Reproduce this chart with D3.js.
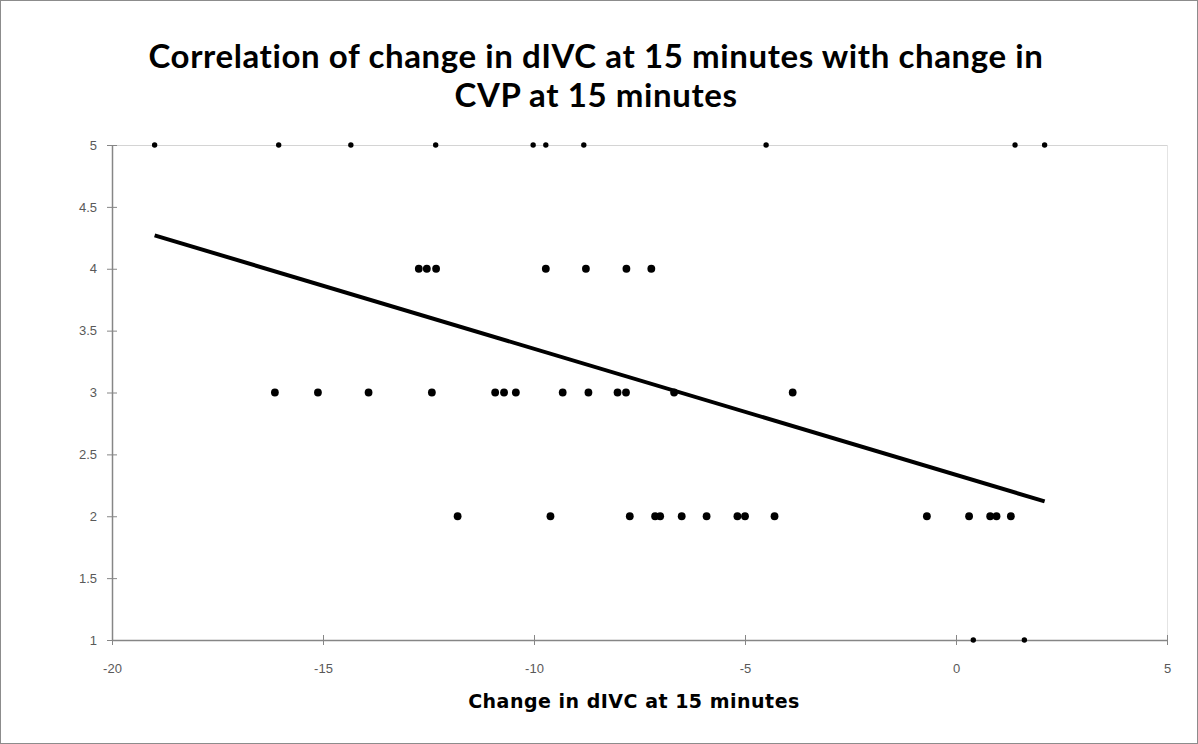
<!DOCTYPE html>
<html>
<head>
<meta charset="utf-8">
<script src="https://cdn.jsdelivr.net/npm/d3@7"></script>
<style>
  body { margin: 0; background: #fff; }
  svg { display: block; }
</style>
</head>
<body>
<svg id="chart" width="1198" height="744"></svg>
<script>
// values, grouped by CVP level
var dIVC = [
  -18.99, -16.05, -14.34, -12.33, -10.02, -9.72, -8.82, -4.5, 1.4, 2.1,
  -12.73, -12.54, -12.32, -9.72, -8.77, -7.81, -7.22,
  -16.14, -15.12, -13.92, -12.42, -10.92, -10.71, -10.43, -9.32, -8.71, -8.02, -7.82, -6.68, -3.87,
  -11.81, -9.61, -7.73, -7.13, -7.01, -6.5, -5.91, -5.18, -5.0, -4.3, -0.69, 0.31, 0.81, 0.96, 1.3,
  0.41, 1.62
];
var cvp = [
  5, 5, 5, 5, 5, 5, 5, 5, 5, 5,
  4, 4, 4, 4, 4, 4, 4,
  3, 3, 3, 3, 3, 3, 3, 3, 3, 3, 3, 3, 3,
  2, 2, 2, 2, 2, 2, 2, 2, 2, 2, 2, 2, 2, 2, 2,
  1, 1
];
// trend line ends as drawn in the picture (some points overlap and can't be read)
var trendX = [-18.99, 2.1];
var trendY = [4.27, 2.12];
var xTicks = [-20, -15, -10, -5, 0, 5];
var yTicks = [1, 1.5, 2, 2.5, 3, 3.5, 4, 4.5, 5];
var titleLines = ["Correlation of change in dIVC at 15 minutes with change in", "CVP at 15 minutes"];
var xTitle = "Change in dIVC at 15 minutes";

var svg = d3.select("#chart"),
    margin = {top: 145, right: 31, bottom: 104, left: 112},
    width = +svg.attr("width") - margin.left - margin.right,
    height = +svg.attr("height") - margin.top - margin.bottom;

var data = dIVC.map(function(d, i) { return {x: d, y: cvp[i]}; });

// outer frame
svg.append("rect")
    .attr("x", 0.5).attr("y", 0.5)
    .attr("width", 1197).attr("height", 743)
    .attr("fill", "#fff")
    .attr("stroke", "#8c8c8c");

var x = d3.scaleLinear().domain([-20, 5]).range([0, width]);
var y = d3.scaleLinear().domain([1, 5]).range([height, 0]);

var g = svg.append("g").attr("transform", "translate(" + margin.left + "," + margin.top + ")");

// light plot border top / right
g.append("line")
    .attr("x1", 0).attr("x2", width).attr("y1", y(5) + 0.5).attr("y2", y(5) + 0.5)
    .attr("stroke", "#d4d4d4");
g.append("line")
    .attr("x1", width + 0.5).attr("x2", width + 0.5).attr("y1", 0).attr("y2", height)
    .attr("stroke", "#e4e4e4");

var fmt = function(d) { return String(d); };

var xAxis = g.append("g")
    .attr("transform", "translate(0," + height + ")")
    .call(d3.axisBottom(x).tickValues(xTicks).tickSizeInner(5).tickSizeOuter(0).tickPadding(19).tickFormat(fmt));
var yAxis = g.append("g")
    .call(d3.axisLeft(y).tickValues(yTicks).tickSizeInner(5).tickSizeOuter(0).tickPadding(10).tickFormat(fmt));

[xAxis, yAxis].forEach(function(ax) {
    ax.select(".domain").attr("stroke", "#868686").attr("stroke-width", 1.5);
    ax.selectAll(".tick line").attr("stroke", "#868686");
    ax.selectAll(".tick text")
        .attr("fill", "#595959")
        .style("font-family", "'Liberation Sans Narrow', 'Liberation Sans', Arial, sans-serif")
        .style("font-size", "13px");
});
// ticks cross the axis line
xAxis.selectAll(".tick line").attr("y1", -5).attr("y2", 5);
yAxis.selectAll(".tick line").attr("x1", -5).attr("x2", 5);

var trend = trendX.map(function(d, i) { return [x(d), y(trendY[i])]; });
g.append("path")
    .attr("d", d3.line()(trend))
    .attr("stroke", "#000")
    .attr("stroke-width", 4)
    .attr("fill", "none");

g.selectAll(".dot")
    .data(data)
  .enter().append("circle")
    .attr("class", "dot")
    .attr("cx", function(d) { return x(d.x); })
    .attr("cy", function(d) { return y(d.y); })
    .attr("r", function(d) { return (d.y === 5 || d.y === 1) ? 2.7 : 3.9; })
    .attr("fill", "#000");

// titles
svg.append("text")
    .attr("x", 596).attr("y", 68)
    .attr("text-anchor", "middle")
    .style("font-family", "Lato, 'Open Sans', sans-serif")
    .style("font-weight", "bold")
    .style("font-size", "33px")
    .style("letter-spacing", "0.6px")
    .selectAll("tspan")
    .data(titleLines)
  .enter().append("tspan")
    .attr("x", 596)
    .attr("dy", function(d, i) { return i === 0 ? 0 : 39; })
    .text(function(d) { return d; });

svg.append("text")
    .attr("x", 634).attr("y", 708)
    .attr("text-anchor", "middle")
    .style("font-family", "'DejaVu Sans', Verdana, sans-serif")
    .style("font-weight", "bold")
    .style("font-size", "19px")
    .style("letter-spacing", "0.5px")
    .text(xTitle);
</script>
</body>
</html>
